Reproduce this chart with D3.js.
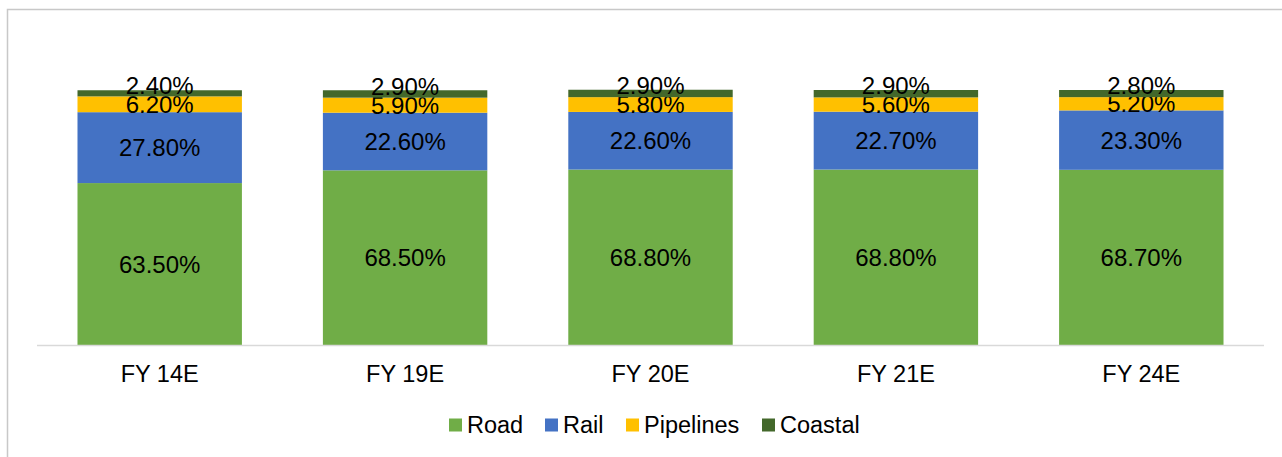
<!DOCTYPE html>
<html>
<head>
<meta charset="utf-8">
<script src="https://cdn.jsdelivr.net/npm/d3@7"></script>
<style>
  body { margin: 0; background: #fff; }
  svg text { font-family: "Liberation Sans", Arial, sans-serif; fill: #000; }
</style>
</head>
<body>
<div id="chart"></div>
<script>
// data
const years = ["FY 14E", "FY 19E", "FY 20E", "FY 21E", "FY 24E"];
const modes = ["Road", "Rail", "Pipelines", "Coastal"];
const road = [63.5, 68.5, 68.8, 68.8, 68.7];
const rail = [27.8, 22.6, 22.6, 22.7, 23.3];
const pipelines = [6.2, 5.9, 5.8, 5.6, 5.2];
const coastal = [2.4, 2.9, 2.9, 2.9, 2.8];
const colors = ["#70ad47", "#4472c4", "#ffc000", "#43682b"];

const width = 1282, height = 457;
const margin = { top: 90, right: 18, bottom: 112, left: 37 };

const svg = d3.select("#chart").append("svg")
    .attr("width", width).attr("height", height);

// chart frame (runs off the right / bottom of the picture)
svg.append("rect")
    .attr("x", 7.5).attr("y", 9.5)
    .attr("width", width + 20).attr("height", height + 20)
    .attr("fill", "none").attr("stroke", "#c8c8c8").attr("stroke-width", 1.5);

const rows = years.map((y, i) => ({
    year: y, Road: road[i], Rail: rail[i], Pipelines: pipelines[i], Coastal: coastal[i]
}));
const stack = d3.stack().keys(modes)(rows);

const x = d3.scaleBand().domain(years)
    .range([margin.left, width - margin.right])
    .paddingInner(0.33).paddingOuter(0.165);

const y = d3.scaleLinear().domain([0, 100])
    .range([height - margin.bottom, margin.top]);

const layer = svg.selectAll("g.layer").data(stack).join("g")
    .attr("class", "layer")
    .attr("fill", (d, i) => colors[i]);

layer.selectAll("rect").data(d => d).join("rect")
    .attr("x", d => x(d.data.year))
    .attr("width", x.bandwidth())
    .attr("y", d => y(d[1]))
    .attr("height", d => y(d[0]) - y(d[1]));

// baseline
svg.append("line")
    .attr("x1", margin.left).attr("x2", width - margin.right)
    .attr("y1", y(0) + 0.5).attr("y2", y(0) + 0.5)
    .attr("stroke", "#d9d9d9").attr("stroke-width", 1.5);

// value labels (the thin top segment's label sits a bit higher)
layer.each(function (s) {
    const lift = s.key === "Coastal" ? 8 : 0;
    d3.select(this).selectAll("text").data(s).join("text")
        .attr("x", d => x(d.data.year) + x.bandwidth() / 2)
        .attr("y", d => (y(d[0]) + y(d[1])) / 2 - lift)
        .attr("dy", "0.36em")
        .attr("text-anchor", "middle")
        .attr("font-size", 24)
        .text(d => (d[1] - d[0]).toFixed(2) + "%");
});

// x axis labels
svg.append("g").selectAll("text").data(years).join("text")
    .attr("x", d => x(d) + x.bandwidth() / 2)
    .attr("y", y(0) + 29)
    .attr("dy", "0.36em")
    .attr("text-anchor", "middle")
    .attr("font-size", 23.5)
    .text(d => d);

// legend
const legendX = [449, 545, 626, 762];
const legend = svg.append("g").selectAll("g").data(modes).join("g")
    .attr("transform", (d, i) => `translate(${legendX[i]},425)`);
legend.append("rect")
    .attr("x", 0).attr("y", -6.5).attr("width", 13).attr("height", 13)
    .attr("fill", (d, i) => colors[i]);
legend.append("text")
    .attr("x", 18).attr("dy", "0.36em")
    .attr("font-size", 23.5)
    .text(d => d);
</script>
</body>
</html>
